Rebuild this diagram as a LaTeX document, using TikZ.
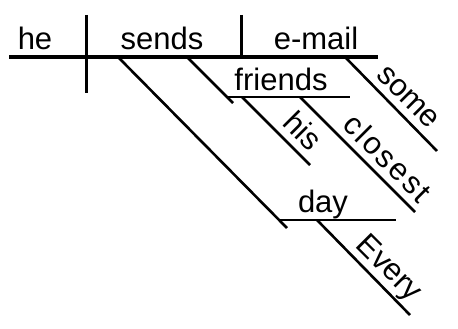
\documentclass[tikz,border=0pt]{standalone}
\usepackage{fontspec}
\setmainfont{Liberation Sans}
\begin{document}
\begin{tikzpicture}[x=1pt,y=-1pt,
  lbl/.style={inner sep=0pt, anchor=base, font=\fontsize{31}{31}\selectfont},
  slbl/.style={lbl, rotate=-45},
  mainln/.style={line width=4pt},
  divln/.style={line width=3pt},
  modln/.style={line width=2.6pt}]
\useasboundingbox (0,0) rectangle (458,329);
% coordinates
\coordinate (mL) at (9,57);   \coordinate (mR) at (378,57);
\coordinate (d1t) at (86,15); \coordinate (d1b) at (86,93);
\coordinate (d2t) at (241,15); \coordinate (d2b) at (241,57);
\coordinate (s1a) at (118,57); \coordinate (s1b) at (287,228);
\coordinate (fa) at (187,57);  \coordinate (fb) at (233,103);
\coordinate (fL) at (228,97);  \coordinate (fR) at (350,97);
\coordinate (ha) at (242,97);  \coordinate (hb) at (310,165);
\coordinate (ca) at (300,97);  \coordinate (cb) at (415,212);
\coordinate (sa) at (345,57);  \coordinate (sb) at (437,151);
\coordinate (dL) at (280,220); \coordinate (dR) at (396,220);
\coordinate (ea) at (317,220); \coordinate (eb) at (410,315);
% lines
\draw[mainln] (mL) -- (mR);
\draw[divln] (d1t) -- (d1b);
\draw[divln] (d2t) -- (d2b);
\draw[modln] (s1a) -- (s1b);
\draw[modln] (fa) -- (fb);
\draw[modln] (fL) -- (fR);
\draw[modln] (ha) -- (hb);
\draw[modln] (ca) -- (cb);
\draw[modln] (sa) -- (sb);
\draw[modln] (dL) -- (dR);
\draw[modln] (ea) -- (eb);
% labels
\node[lbl] (he) at (35,50) {he};
\node[lbl] (sends) at (162,50) {sends};
\node[lbl] (email) at (316,50) {e-mail};
\node[lbl] (friends) at (281,91) {friends};
\node[lbl] (day) at (323,212) {day};
\node[slbl] (some) at (402.3,102.9) {some};
\node[slbl] (his) at (295.1,138.7) {his};
\node[slbl] (closest) at (379.9,165.5) {\addfontfeature{LetterSpace=7}closest};
\node[slbl] (every) at (382.8,274.4) {Every};
\end{tikzpicture}
\end{document}
